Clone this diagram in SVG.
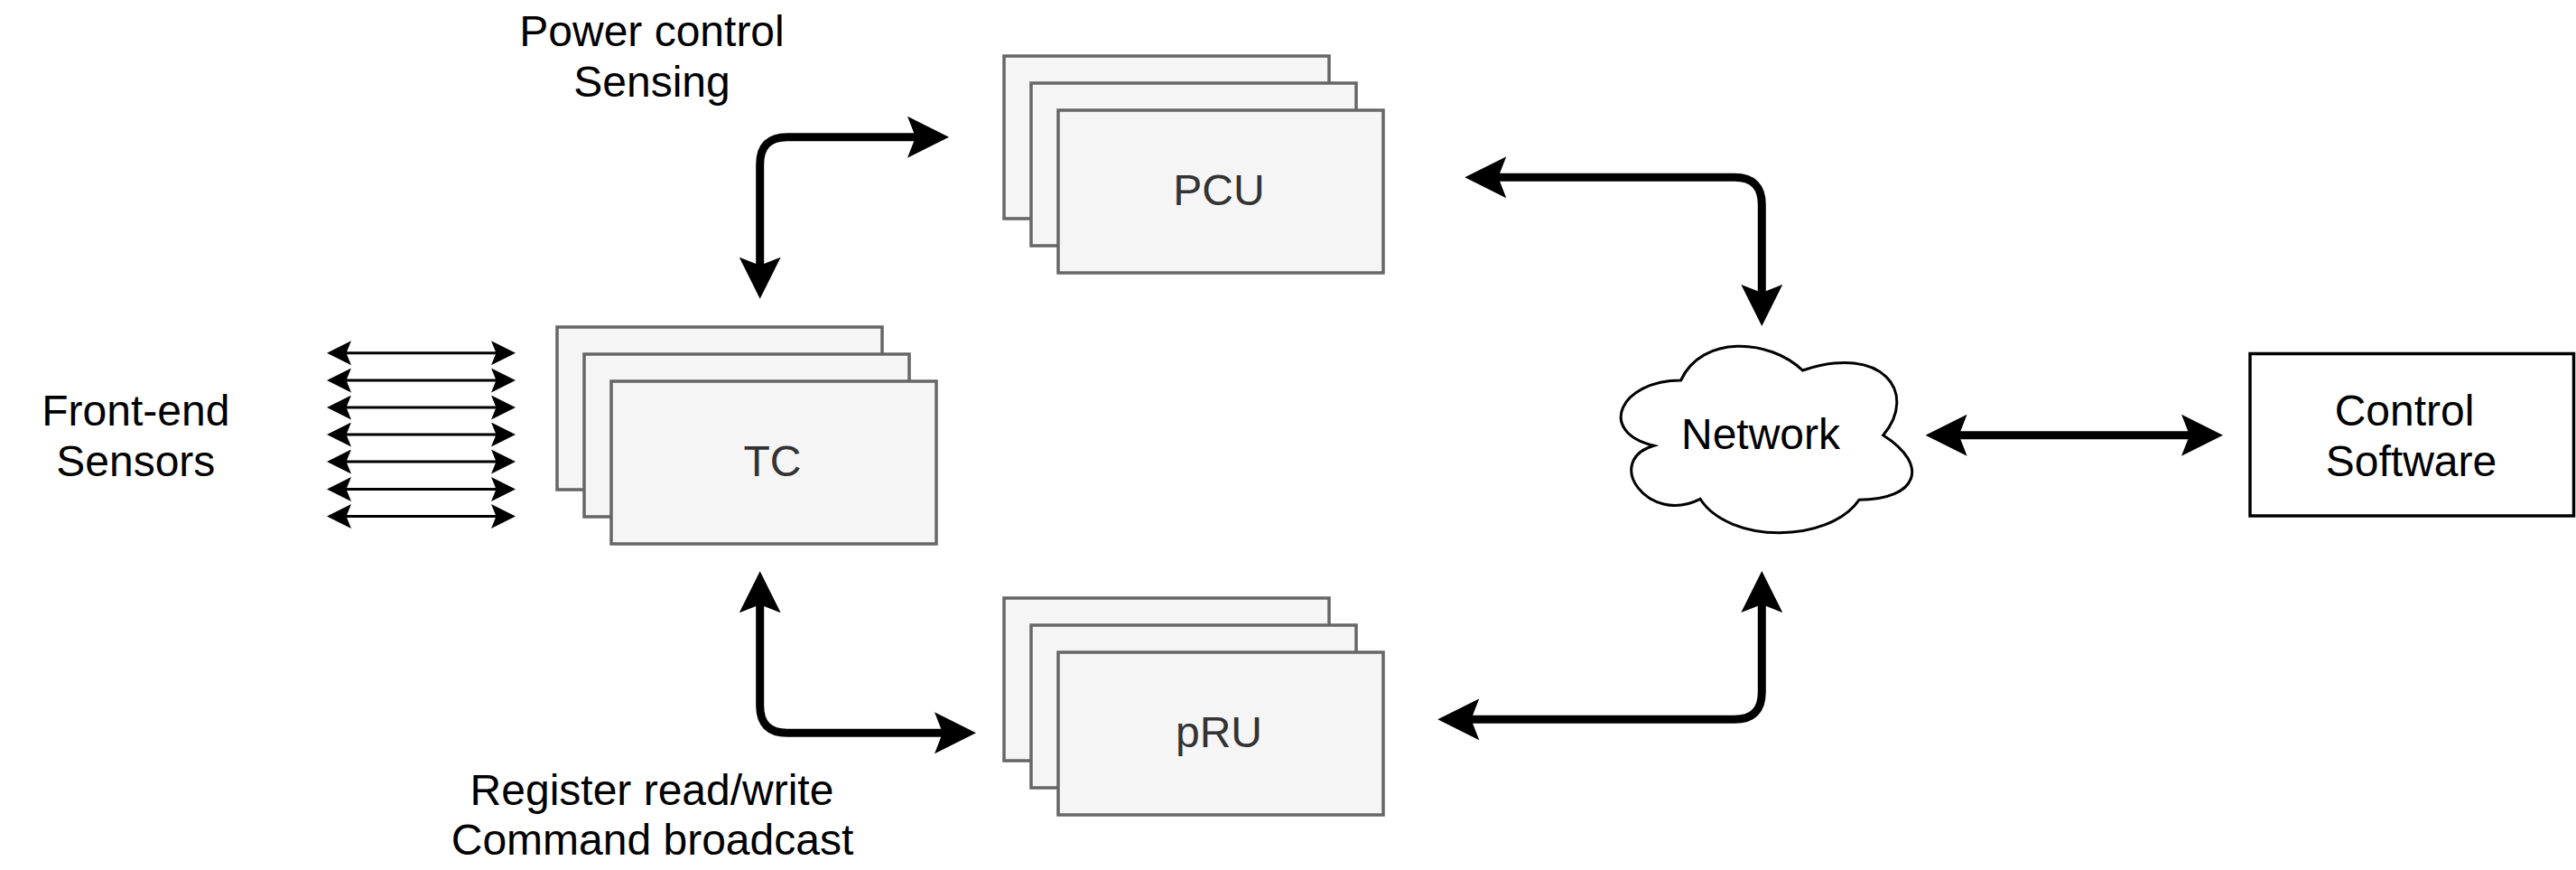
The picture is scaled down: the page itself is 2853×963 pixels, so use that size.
<svg xmlns="http://www.w3.org/2000/svg" width="2853" height="963" viewBox="0 0 2853 963">
<defs>
<style>
text{font-family:"Liberation Sans",Arial,sans-serif;font-size:48px;text-anchor:middle}
.n{fill:#f5f5f5;stroke:#666666;stroke-width:3.500}
.g{fill:#333333}
.k{fill:#000000}
.thick{fill:none;stroke:#000;stroke-width:9;marker-start:url(#big);marker-end:url(#big)}
.thin{fill:none;stroke:#000;stroke-width:3;marker-start:url(#small);marker-end:url(#small)}
</style>
<marker id="big" markerUnits="userSpaceOnUse" markerWidth="46" markerHeight="46" refX="12" refY="23" orient="auto-start-reverse"><path d="M0 0L46 23L0 46L9 23Z" fill="#000"/></marker>
<marker id="small" markerUnits="userSpaceOnUse" markerWidth="27" markerHeight="27" refX="8" refY="13.5" orient="auto-start-reverse"><path d="M0 0L27 13.5L0 27L5.5 13.5Z" fill="#000"/></marker>
</defs>
<g id="connectors">
<path class="thick" d="M841.700 296.700V182Q841.700 151.700 872 151.700H1017"/>
<path class="thick" d="M1656.300 196.300H1921Q1951.300 196.300 1951.300 226.600V327"/>
<path class="thick" d="M841.700 666.300V781Q841.700 811.300 872 811.300H1047"/>
<path class="thick" d="M1626.300 796.300H1921Q1951.300 796.300 1951.300 766V666"/>
<path class="thick" d="M2166.600 481.700H2428"/>
<path class="thin" d="M381 390.700H552"/>
<path class="thin" d="M381 421H552"/>
<path class="thin" d="M381 451H552"/>
<path class="thin" d="M381 481H552"/>
<path class="thin" d="M381 511H552"/>
<path class="thin" d="M381 541.500H552"/>
<path class="thin" d="M381 571.500H552"/>
</g>
<g id="pcu"><rect class="n" x="1112" y="62" width="360" height="180"/><rect class="n" x="1142" y="92" width="360" height="180"/><rect class="n" x="1172" y="122" width="360" height="180"/><text class="g" x="1350" y="227">PCU</text></g>
<g id="tc"><rect class="n" x="617" y="362" width="360" height="180"/><rect class="n" x="647" y="392" width="360" height="180"/><rect class="n" x="677" y="422" width="360" height="180"/><text class="g" x="855.500" y="527">TC</text></g>
<g id="pru"><rect class="n" x="1112" y="662" width="360" height="180"/><rect class="n" x="1142" y="692" width="360" height="180"/><rect class="n" x="1172" y="722" width="360" height="180"/><text class="g" x="1350" y="827">pRU</text></g>
<g id="network"><path fill="#fff" stroke="#000" stroke-width="3" d="M1861.600 421C1794 421 1768 478 1831.700 493.300C1775 510 1825 582 1883 552.300C1915 602 2025 602 2059 553.300C2124 553 2138 515 2085.700 481.700C2125 435 2085 380 1996.400 410C1960 375 1885 370 1861.600 421Z"/><text class="k" x="1950" y="497">Network</text></g>
<g id="control-software"><rect x="2492" y="391.500" width="358.500" height="179.500" fill="#fff" stroke="#000" stroke-width="3.500"/><text class="k" x="2663" y="471">Control</text><text class="k" x="2670.500" y="527">Software</text></g>
<g id="labels">
<text class="k" x="722" y="50.700">Power control</text><text class="k" x="722" y="106.700">Sensing</text>
<text class="k" x="150.300" y="470.700">Front-end</text><text class="k" x="150.300" y="526.500">Sensors</text>
<text class="k" x="722" y="890.700">Register read/write</text><text class="k" x="722.500" y="946">Command broadcast</text>
</g>
</svg>
